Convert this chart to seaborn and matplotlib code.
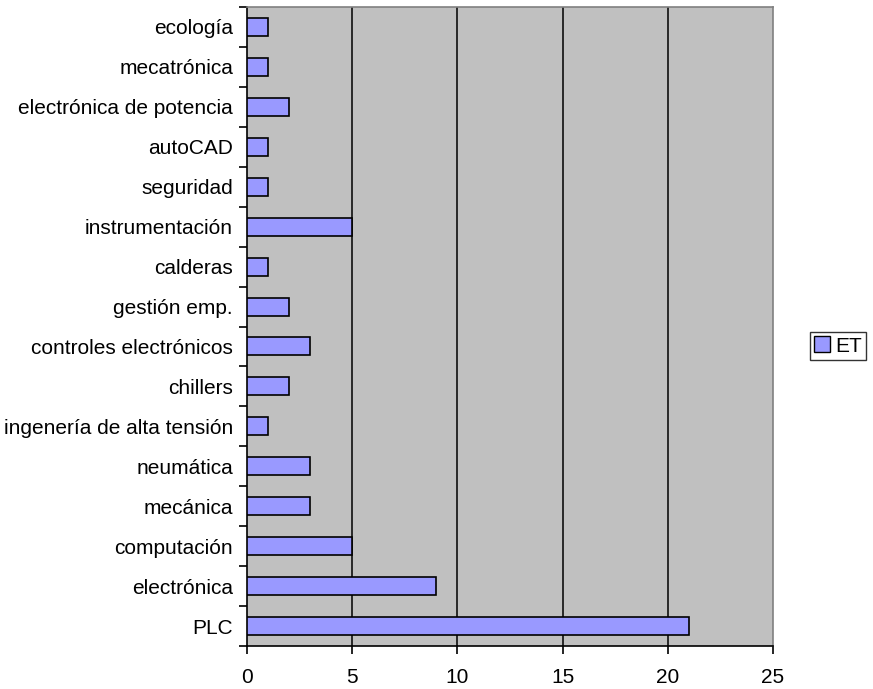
import matplotlib
matplotlib.use("Agg")
import matplotlib.pyplot as plt
import seaborn as sns
import pandas as pd
import numpy as np
from matplotlib.patches import Patch

temas = ["ecología", "mecatrónica", "electrónica de potencia", "autoCAD",
         "seguridad", "instrumentación", "calderas", "gestión emp.",
         "controles electrónicos", "chillers", "ingenería de alta tensión",
         "neumática", "mecánica", "computación", "electrónica", "PLC"]
et = [1, 1, 2, 1, 1, 5, 1, 2, 3, 2, 1, 3, 3, 5, 9, 21]
x_ticks = [0, 5, 10, 15, 20, 25]

sns.set_theme(style="white")
plt.rcParams['font.family'] = ['Liberation Sans', 'DejaVu Sans']
plt.rcParams['text.color'] = 'black'
plt.rcParams['xtick.labelcolor'] = 'black'
plt.rcParams['ytick.labelcolor'] = 'black'

df = pd.DataFrame({"tema": temas, "ET": et})

fig = plt.figure(figsize=(8.73, 6.89), dpi=100)
ax = fig.add_axes([247 / 873, 1 - 646 / 689, (773 - 247) / 873, (646 - 7) / 689])
ax.set_facecolor("#c0c0c0")

sns.barplot(data=df, x="ET", y="tema", order=temas, orient="h",
            color="#9999ff", edgecolor="black", linewidth=1.2,
            width=0.45, saturation=1, ax=ax, zorder=3)

ax.set_xlim(0, 25)
ax.set_ylim(len(temas) - 0.5, -0.5)
ax.set_xticks(x_ticks)
ax.set_xticklabels([str(v) for v in x_ticks], fontsize=15)
for v in x_ticks[1:-1]:
    ax.axvline(v, color="black", linewidth=1.1, zorder=1)

ax.set_yticks(range(len(temas)))
ax.set_yticklabels(temas, fontsize=15)
ax.tick_params(axis="y", which="major", length=0, pad=10)
ax.set_yticks(np.arange(-0.5, len(temas), 1.0), minor=True)
ax.tick_params(axis="y", which="minor", length=6, width=1.2, color="black", direction="out", left=True)
ax.tick_params(axis="x", which="major", length=6, width=1.2, color="black", direction="out", bottom=True, pad=10)

ax.set_xlabel("")
ax.set_ylabel("")
for side in ["left", "bottom"]:
    ax.spines[side].set_color("black")
    ax.spines[side].set_linewidth(1.2)
for side in ["top", "right"]:
    ax.spines[side].set_color("#808080")
    ax.spines[side].set_linewidth(1.2)

handle = Patch(facecolor="#9999ff", edgecolor="black", linewidth=1.0)
fig.legend([handle], ["ET"], loc="center", bbox_to_anchor=(838 / 873, 1 - 346 / 689),
           fontsize=15, frameon=True, fancybox=False, edgecolor="black",
           handlelength=0.8, handleheight=0.8, handletextpad=0.25,
           borderpad=0.2, borderaxespad=0)

fig.savefig("out.png", dpi=100, facecolor="white")
